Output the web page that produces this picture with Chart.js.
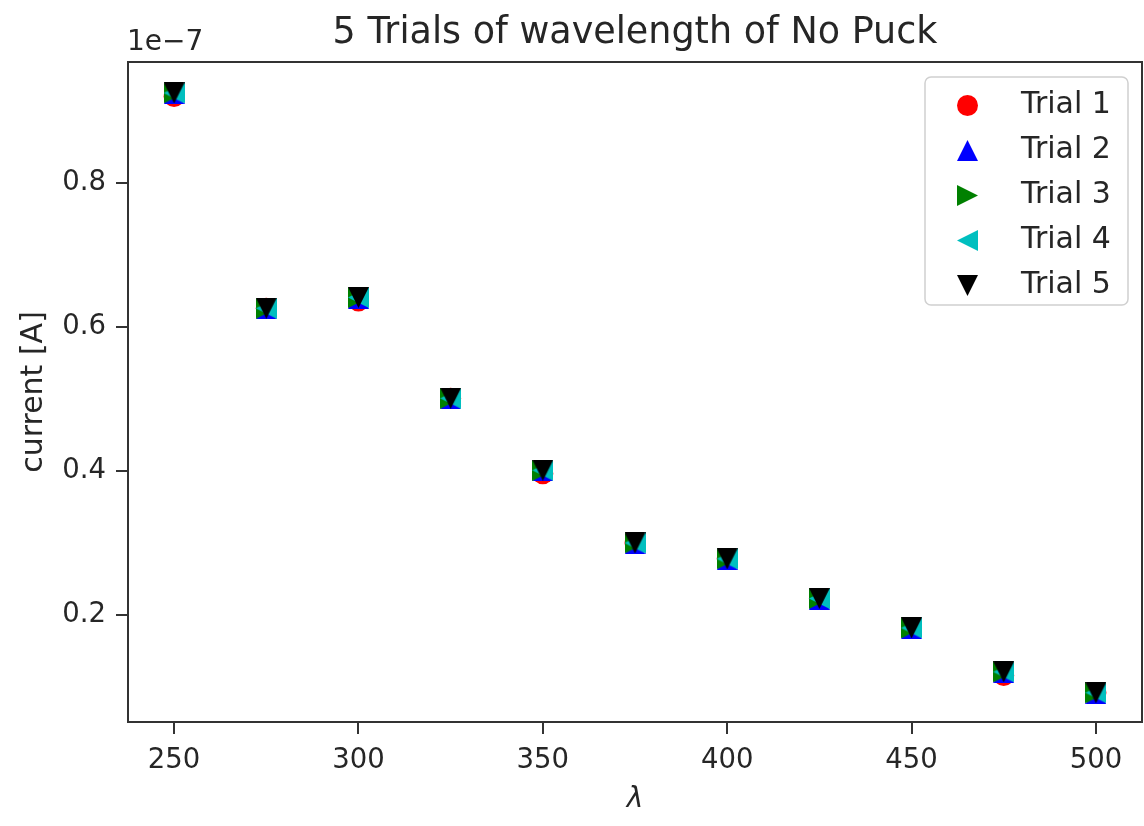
<!DOCTYPE html>
<html>
<head>
<meta charset="utf-8">
<script src="https://cdn.jsdelivr.net/npm/chart.js@4.4.1/dist/chart.umd.min.js"></script>
<style>
  html, body { margin: 0; padding: 0; background: #fff; overflow: hidden; }
  #wrap { width: 1144px; height: 826px; }
  canvas { display: block; }
</style>
</head>
<body>
<div id="wrap"><canvas id="chart" width="1144" height="826"></canvas></div>
<script>
// wavelength in nm, current in units of 1e-7 A
const wavelengths = [250, 275, 300, 325, 350, 375, 400, 425, 450, 475, 500];
const trial1 = [0.920, 0.626, 0.636, 0.501, 0.396, 0.300, 0.278, 0.223, 0.182, 0.116, 0.092];
const trial2 = [0.924, 0.625, 0.640, 0.500, 0.400, 0.299, 0.277, 0.222, 0.181, 0.120, 0.091];
const trial3 = [0.925, 0.626, 0.641, 0.501, 0.401, 0.300, 0.278, 0.223, 0.182, 0.121, 0.092];
const trial4 = [0.925, 0.626, 0.641, 0.501, 0.401, 0.300, 0.278, 0.223, 0.182, 0.121, 0.092];
const trial5 = [0.925, 0.626, 0.641, 0.501, 0.401, 0.300, 0.278, 0.223, 0.182, 0.121, 0.092];

const xTicks = [250, 300, 350, 400, 450, 500];
const yTicks = [0.2, 0.4, 0.6, 0.8];

const FONT = "'DejaVu Sans', sans-serif";
const TEXT = "#262626";
const MS = 21; // marker box size in px

// matplotlib-like triangles (fill the whole box, not equilateral)
function triMarker(color, dir) {
  const c = document.createElement("canvas");
  c.width = MS; c.height = MS;
  const g = c.getContext("2d");
  const s = MS, h = MS / 2;
  const shapes = {
    up:    [[h, 0], [0, s], [s, s]],
    right: [[0, 0], [0, s], [s, h]],
    left:  [[s, 0], [s, s], [0, h]],
    down:  [[0, 0], [s, 0], [h, s]]
  };
  g.fillStyle = color;
  g.beginPath();
  shapes[dir].forEach((p, i) => i ? g.lineTo(p[0], p[1]) : g.moveTo(p[0], p[1]));
  g.closePath();
  g.fill();
  return c;
}

function pts(vals) {
  return vals.map((v, i) => ({ x: wavelengths[i], y: v }));
}

// later trials sit on top, like matplotlib
function trial(label, vals, color, style, order) {
  return {
    label: label,
    data: pts(vals),
    order: order,
    showLine: false,
    pointStyle: style,
    pointRadius: 10.5,
    pointHoverRadius: 10.5,
    pointBackgroundColor: color,
    pointBorderWidth: 0,
    borderColor: color,
    backgroundColor: color
  };
}

// frame, title, offset text and legend
const decorPlugin = {
  id: "decor",
  afterDraw(chart) {
    const ctx = chart.ctx;
    const a = chart.chartArea;
    ctx.save();

    ctx.strokeStyle = "#333";
    ctx.lineWidth = 2;
    ctx.strokeRect(a.left, a.top, a.right - a.left, a.bottom - a.top);

    ctx.fillStyle = TEXT;
    ctx.textBaseline = "middle";
    ctx.textAlign = "center";
    ctx.font = "36.5px " + FONT;
    ctx.fillText("5 Trials of wavelength of No Puck", (a.left + a.right) / 2, 34);

    ctx.textAlign = "left";
    ctx.font = "28px " + FONT;
    ctx.fillText("1e\u22127", a.left - 1, 43);

    // legend
    const bx = 925, by = 77, bw = 203, bh = 228;
    ctx.beginPath();
    ctx.roundRect(bx, by, bw, bh, 6);
    ctx.fillStyle = "rgba(255,255,255,0.8)";
    ctx.fill();
    ctx.strokeStyle = "#d0d0d0";
    ctx.lineWidth = 1.5;
    ctx.stroke();

    chart.data.datasets.forEach((ds, i) => {
      const y = 105 + i * 45;
      ctx.fillStyle = ds.pointBackgroundColor;
      Chart.helpers.drawPoint(ctx, {
        pointStyle: ds.pointStyle,
        rotation: 0,
        radius: ds.pointRadius,
        borderWidth: 0
      }, 967.5, y + 0.5);
      ctx.fillStyle = TEXT;
      ctx.font = "30px " + FONT;
      ctx.textAlign = "left";
      ctx.fillText(ds.label, 1021, y);
    });

    ctx.restore();
  }
};

new Chart(document.getElementById("chart"), {
  type: "scatter",
  data: {
    datasets: [
      trial("Trial 1", trial1, "#ff0000", "circle", 5),
      trial("Trial 2", trial2, "#0000ff", triMarker("#0000ff", "up"), 4),
      trial("Trial 3", trial3, "#008000", triMarker("#008000", "right"), 3),
      trial("Trial 4", trial4, "#00bfbf", triMarker("#00bfbf", "left"), 2),
      trial("Trial 5", trial5, "#000000", triMarker("#000000", "down"), 1)
    ]
  },
  options: {
    responsive: false,
    animation: false,
    layout: { autoPadding: false, padding: { top: 62, right: 2, left: 0, bottom: 0 } },
    plugins: {
      legend: { display: false },
      tooltip: { enabled: false }
    },
    scales: {
      x: {
        type: "linear",
        min: 237.5,
        max: 512.5,
        afterBuildTicks: s => { s.ticks = xTicks.map(v => ({ value: v })); },
        afterFit: s => { s.height = 104; },
        grid: { drawOnChartArea: false, drawTicks: true, tickLength: 12, color: "#333", lineWidth: 2 },
        border: { display: true, color: "#333", width: 2 },
        ticks: { color: TEXT, font: { family: FONT, size: 27.5 }, padding: 10, maxRotation: 0 },
        title: {
          display: true, text: "\u03bb", color: TEXT,
          font: { family: FONT, size: 28, style: "italic" },
          padding: { top: 0, bottom: 9 }
        }
      },
      y: {
        type: "linear",
        min: 0.0514,
        max: 0.968,
        afterBuildTicks: s => { s.ticks = yTicks.map(v => ({ value: v })); },
        afterFit: s => { s.width = 128; },
        grid: { drawOnChartArea: false, drawTicks: true, tickLength: 12, color: "#333", lineWidth: 2 },
        border: { display: true, color: "#333", width: 2 },
        ticks: { color: TEXT, font: { family: FONT, size: 27.5 }, padding: 10, callback: v => v.toFixed(1) },
        title: {
          display: true, text: "current [A]", color: TEXT,
          font: { family: FONT, size: 30 },
          padding: { top: 16, bottom: 0 }
        }
      }
    }
  },
  plugins: [decorPlugin]
});
</script>
</body>
</html>
